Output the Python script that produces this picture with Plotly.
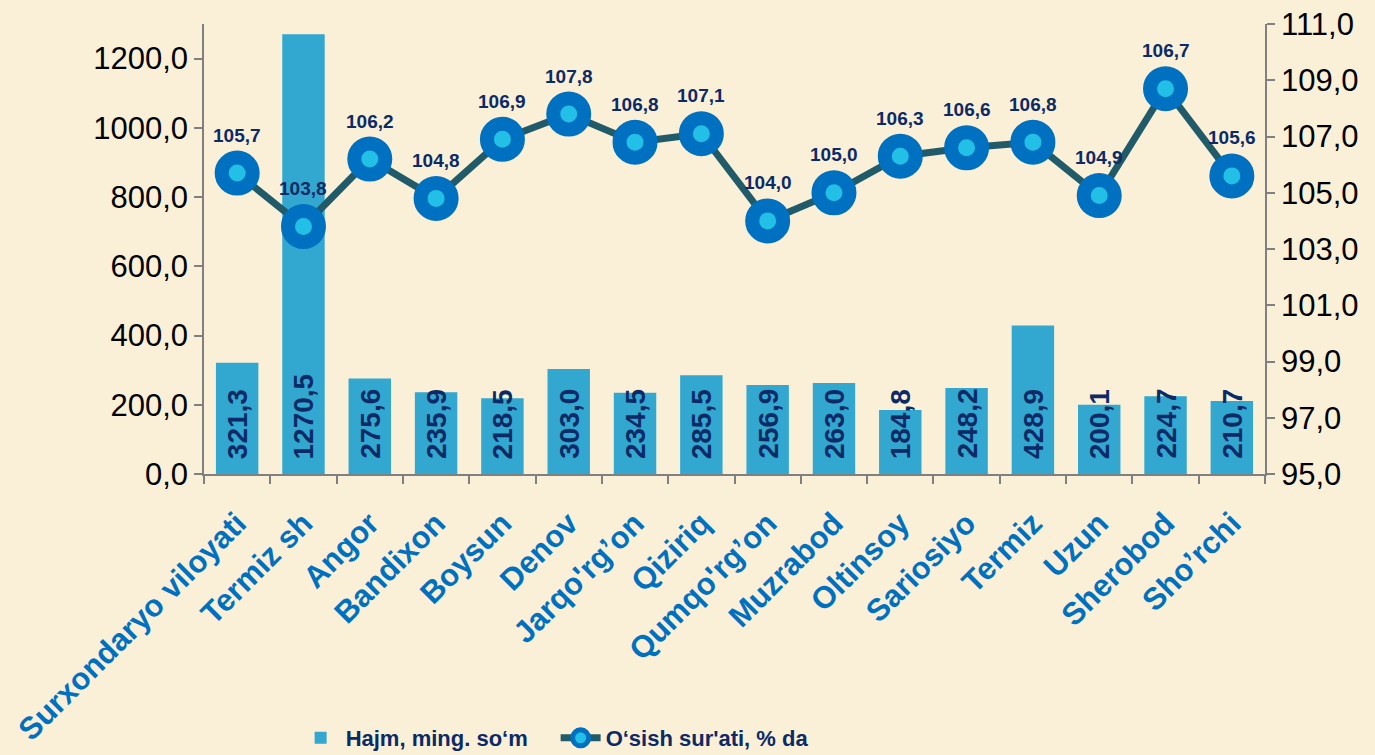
import plotly.graph_objects as go

categories = ["Surxondaryo viloyati", "Termiz sh", "Angor", "Bandixon", "Boysun", "Denov",
              "Jarqo'rg’on", "Qiziriq", "Qumqo'rg’on", "Muzrabod", "Oltinsoy", "Sariosiyo",
              "Termiz", "Uzun", "Sherobod", "Sho’rchi"]
volume = [321.3, 1270.5, 275.6, 235.9, 218.5, 303.0, 234.5, 285.5, 256.9, 263.0, 184.8,
          248.2, 428.9, 200.1, 224.7, 210.7]
growth = [105.7, 103.8, 106.2, 104.8, 106.9, 107.8, 106.8, 107.1, 104.0, 105.0, 106.3,
          106.6, 106.8, 104.9, 108.7, 105.6]
growth_labels = ["105,7", "103,8", "106,2", "104,8", "106,9", "107,8", "106,8", "107,1",
                 "104,0", "105,0", "106,3", "106,6", "106,8", "104,9", "106,7", "105,6"]
left_ticks = [0, 200, 400, 600, 800, 1000, 1200]
right_ticks = [95, 97, 99, 101, 103, 105, 107, 109, 111]

def fmt(v):
    return f"{v:.1f}".replace(".", ",")

FONT = "Liberation Sans, Arial, sans-serif"
NAVY = "#0B2A66"
BG = "#FAF0D8"

fig = go.Figure()
fig.add_trace(go.Bar(
    x=categories, y=volume, name="Hajm, ming. so‘m",
    marker=dict(color="#32A7D0", line=dict(width=0)),
    width=0.64,
))
fig.add_trace(go.Scatter(
    x=categories, y=growth, yaxis="y2", name="O‘sish sur'ati, % da",
    mode="lines+markers",
    line=dict(color="#215B6A", width=7),
    marker=dict(size=31, color="#22BFE6", line=dict(color="#0070C0", width=14)),
))

for c, v in zip(categories, volume):
    fig.add_annotation(x=c, y=0, yref="y", text=fmt(v), showarrow=False, textangle=-90,
                       yanchor="bottom", yshift=13,
                       font=dict(family=FONT, size=28, color=NAVY, weight="bold"))

for c, g, t in zip(categories, growth, growth_labels):
    fig.add_annotation(x=c, y=g, yref="y2", text=t, showarrow=False,
                       yshift=38, font=dict(family=FONT, size=19, color=NAVY, weight="bold"))

axis_line = dict(showline=True, linecolor="#808080", linewidth=1.5, ticks="outside",
                 tickcolor="#808080", ticklen=8, tickwidth=1.5, automargin=False,
                 showgrid=False, zeroline=False)

fig.update_layout(
    width=1375, height=755,
    margin=dict(l=204, r=110, t=24, b=281),
    paper_bgcolor=BG, plot_bgcolor=BG,
    showlegend=True,
    bargap=0.36,
    xaxis=dict(**axis_line, tickson="boundaries", tickangle=-45,
               range=[-0.5, len(categories) - 0.5],
               ticklabelstandoff=17,
               tickfont=dict(family=FONT, size=31, color="#0070C0", weight="bold")),
    yaxis=dict(**axis_line, range=[0, 1300], tickvals=left_ticks,
               ticktext=[fmt(v) for v in left_ticks],
               tickfont=dict(family=FONT, size=31, color="#000000")),
    yaxis2=dict(**axis_line, overlaying="y", side="right", range=[95, 111],
                tickvals=right_ticks, ticktext=[fmt(v) for v in right_ticks],
                tickfont=dict(family=FONT, size=31, color="#000000")),
    legend=dict(orientation="h", xref="container", yref="container",
                x=0.215, xanchor="left", y=0.0225, yanchor="middle",
                font=dict(family=FONT, size=22, color=NAVY, weight="bold"),
                bgcolor="rgba(0,0,0,0)", itemwidth=40, tracegroupgap=0,
                entrywidth=205, entrywidthmode="pixels"),
)

fig.write_html("out.html", config={"displayModeBar": False},
               post_script="document.body.style.margin='0';document.body.style.background='%s';" % BG)
